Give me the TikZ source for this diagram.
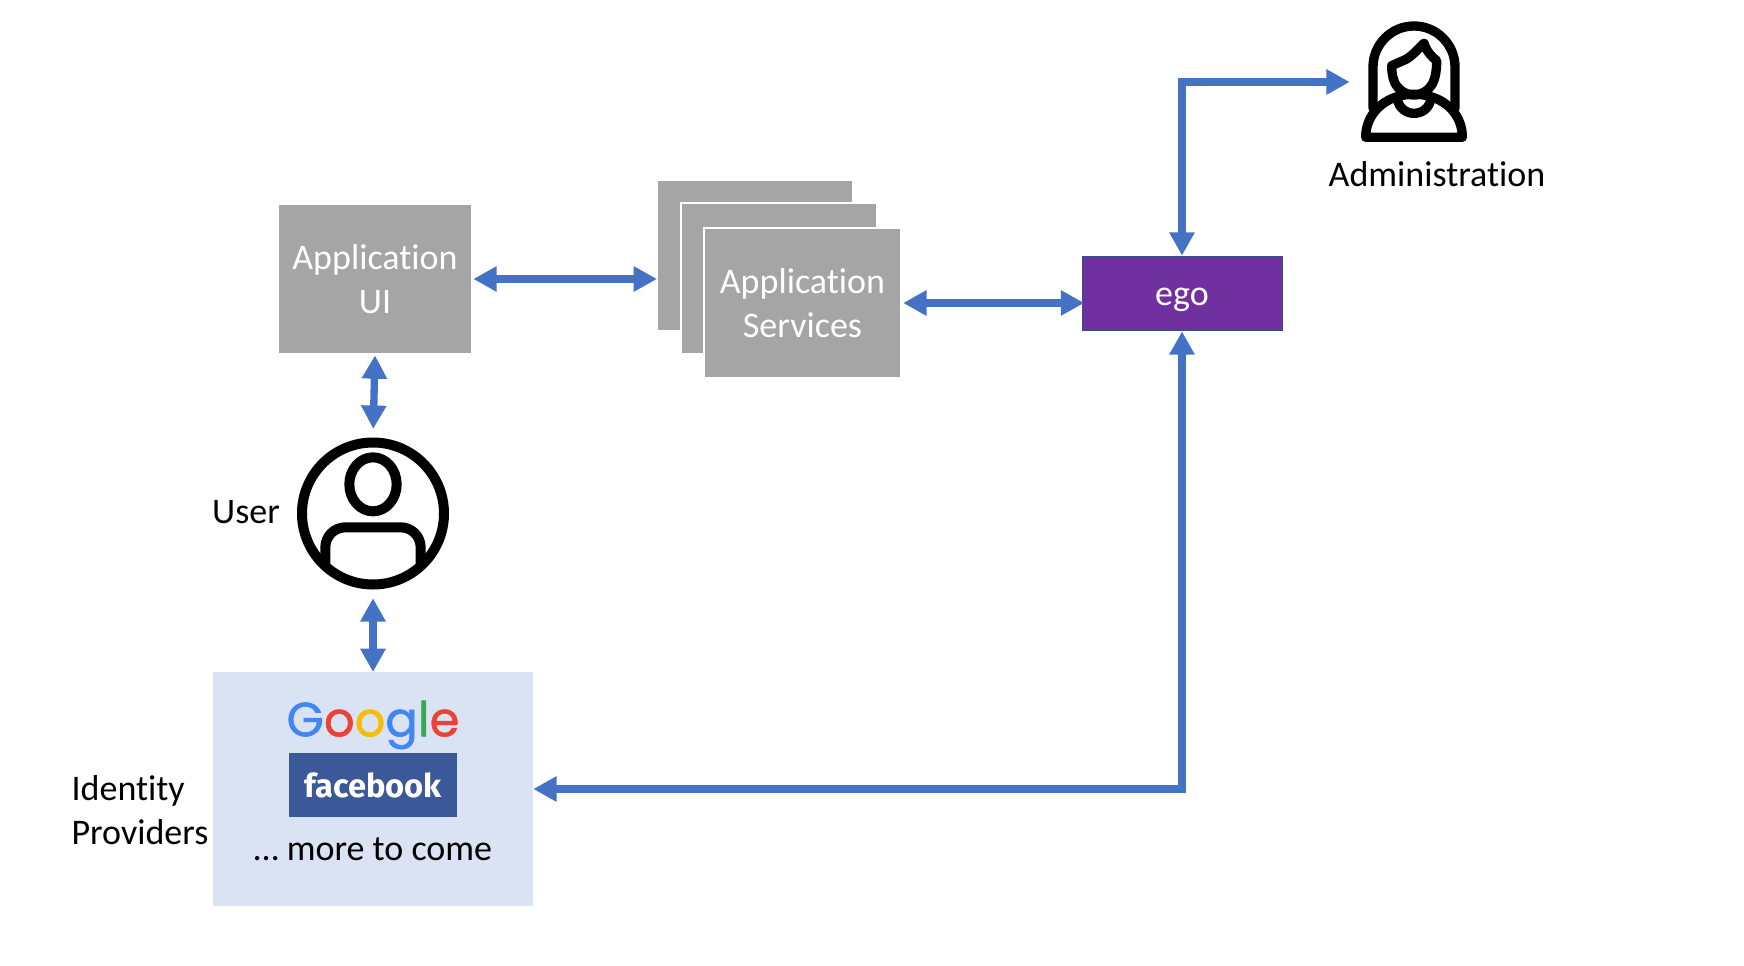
\documentclass[tikz,border=0pt]{standalone}
\usepackage{fontspec}
\usepackage{xcolor}
\setmainfont[Ligatures=NoCommon]{Carlito}
\newfontfamily\googlefont[LetterSpace=-6,FakeBold=1.2]{Poppins}
\newfontfamily\fbfont{Fira Sans}
\usetikzlibrary{arrows.meta}
\definecolor{linkblue}{HTML}{4472C4}
\definecolor{appgray}{HTML}{A5A5A5}
\definecolor{egopurple}{HTML}{7030A0}
\definecolor{idpblue}{HTML}{DAE3F3}
\definecolor{fbblue}{HTML}{3B5998}
\tikzset{
	appbox/.style={rectangle,fill=appgray,draw=white,line width=1.5pt,minimum width=147.5pt,minimum height=113pt,text=white,align=center,font=\fontsize{27}{32.5}\selectfont},
	link/.style={{Triangle[length=17.5pt,width=18pt]}-{Triangle[length=17.5pt,width=18pt]},draw=linkblue,line width=5.5pt},
	label/.style={align=left,font=\fontsize{27}{32.5}\selectfont,text=black},
	icon/.style={draw=black,line width=7pt,line join=round,line cap=round}
}

\begin{document}
\begin{tikzpicture}[x=0.75pt,y=-0.75pt]
	\useasboundingbox (0,0) rectangle (1744,966);
	\node[appbox,minimum width=146pt] (ui) at (375,279) {Application\\UI};
	\node[appbox] (back) at (755,255.5) {};
	\node[appbox] (middle) at (779,278.5) {};
	\node[appbox] (services) at (802.5,303) {Application\\Services};
	\node[rectangle,fill=egopurple,draw=linkblue!70!black,line width=0.75pt,minimum width=150pt,minimum height=56pt,text=white,font=\fontsize{27}{32.5}\selectfont,text height=17.5pt,text depth=0pt] (ego) at (1182,293.5) {ego};
	\node[circle,icon,line width=7.5pt,minimum size=106.5pt] (user) at (373,513.5) {};
	\node[minimum width=96pt,minimum height=90pt] (admin) at (1414,82) {};
	\node[rectangle,fill=idpblue,minimum width=240pt,minimum height=175pt] (idp) at (373,789) {};
	\node[font=\fontsize{36}{36}\selectfont\googlefont] (google) at (373,725) {\textcolor[HTML]{4285F4}{G}\textcolor[HTML]{EA4335}{o}\textcolor[HTML]{FBBC05}{o}\textcolor[HTML]{4285F4}{g}\textcolor[HTML]{34A853}{l}\textcolor[HTML]{EA4335}{e}};
	\node[rectangle,fill=fbblue,minimum width=126pt,minimum height=48pt,text=white,font=\fontsize{24.5}{24.5}\selectfont\fbfont\bfseries] (facebook) at (373,785) {facebook};
	\node[label] (more) at (373,849) {\dots\ more to come};
	\node[label] (userlabel) at (246,512) {User};
	\node[label] (idplabel) at (140,810) {Identity\\Providers};
	\node[label] (adminlabel) at (1437,174) {Administration};

	\draw[link,shorten >=-1pt] (ui.east) -- (ui.east -| back.west);
	\draw[link,shorten <=1pt,shorten >=-2pt] (services.east) -- (services.east -| ego.west);
	\draw[link,shorten >=6.5pt] (ui.south) -- (user.north);
	\draw[link,shorten <=6.5pt] (user.south) -- (idp.north);
	\draw[link] (idp.east) -| (ego.south);
	\draw[link] (ego.north) |- (admin.west);

	\begin{scope}[shift={(200,420)},x=0.25pt,y=-0.25pt]
		\draw[icon,line width=7.5pt] (519,193) ellipse (71 and 81);
		\draw[icon,line width=7.5pt,rounded corners=15pt] (376,430) |- (662,322) -- (662,430);
	\end{scope}
	\begin{scope}[shift={(1300,0)},x=0.25pt,y=-0.25pt]
		\draw[icon] (219,325) -- (219,201) arc (180:360:123) -- (465,325);
		\draw[icon] (197,412) .. controls (197,350) and (240,305) .. (292,290) .. controls (325,280) and (360,280) .. (392,290) .. controls (445,305) and (487,350) .. (487,412) -- cycle;
		\draw[icon] (292,295) .. controls (295,325) and (320,340) .. (342,340) .. controls (365,340) and (390,325) .. (392,295);
		\draw[icon] (275,197) -- (318,178) .. controls (340,165) and (355,145) .. (372,130) .. controls (380,155) and (395,170) .. (410,182) .. controls (410,215) and (405,235) .. (398,250) .. controls (385,272) and (365,285) .. (342,285) .. controls (318,285) and (298,272) .. (285,250) .. controls (277,232) and (275,215) .. (275,197);
	\end{scope}
\end{tikzpicture}
\end{document}
